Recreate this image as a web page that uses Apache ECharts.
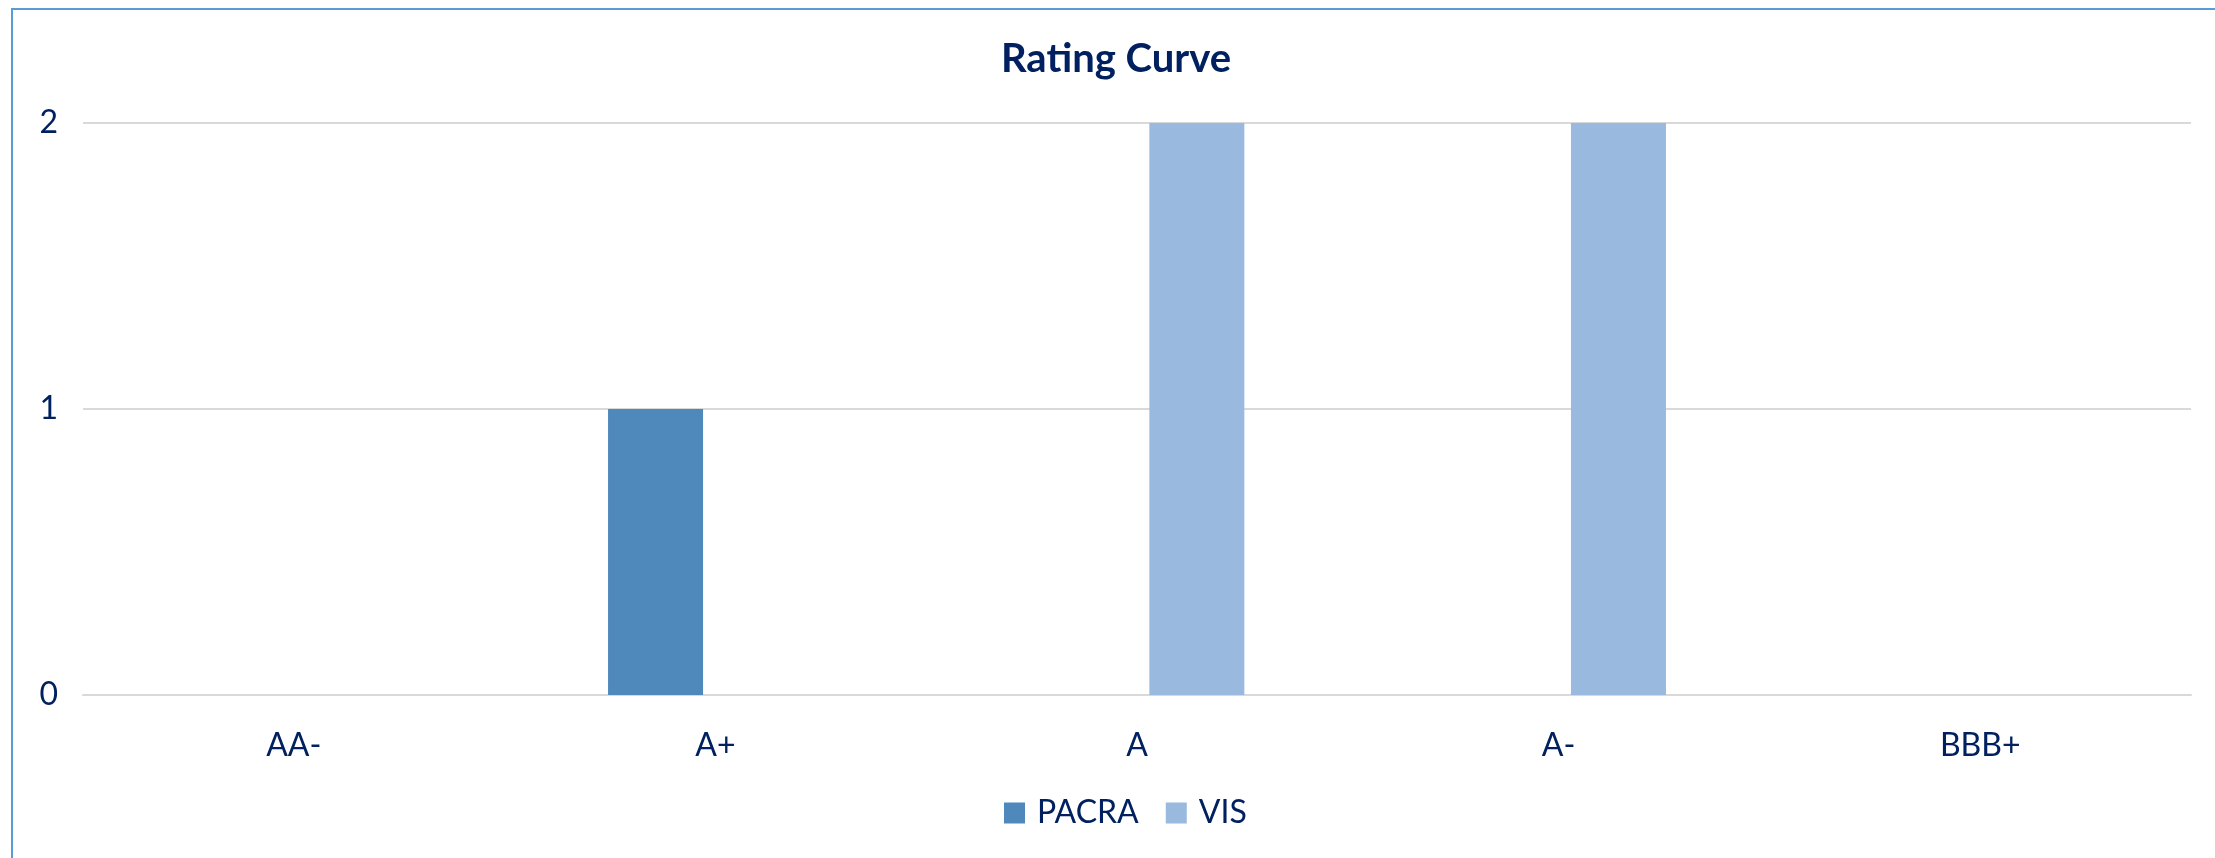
<!DOCTYPE html>
<html>
<head>
<meta charset="utf-8">
<script src="https://cdn.jsdelivr.net/npm/echarts@6/dist/echarts.min.js"></script>
<style>
  html, body { margin: 0; padding: 0; overflow: hidden; background: #fff; }
  #chart { position: absolute; left: 0; top: 0; width: 2215px; height: 858px; }
  #frame {
    position: absolute; left: 11px; top: 8px; width: 2400px; height: 1000px;
    border-left: 2px solid #5b9bd5; border-top: 2px solid #5b9bd5;
    pointer-events: none;
  }
</style>
</head>
<body>
<div id="chart"></div>
<div id="frame"></div>
<script>
  // Rating buckets on the x axis
  const categories = ['AA-', 'A+', 'A', 'A-', 'BBB+'];
  // counts per agency
  const pacraValues = [0, 1, 0, 0, 0];
  const visValues = [0, 0, 2, 2, 0];
  const yTicks = [0, 1, 2];

  const textColor = '#002060';
  const fontFamily = 'Lato, "Noto Sans", sans-serif';

  const myChart = echarts.init(document.getElementById('chart'));

  const option = {
    animation: false,
    title: {
      text: 'Rating Curve',
      left: 1116,
      top: 39,
      textAlign: 'center',
      padding: 0,
      textStyle: {
        color: textColor,
        fontFamily: fontFamily,
        fontWeight: 'bold',
        fontSize: 40
      }
    },
    legend: {
      left: 1004,
      top: 797,
      icon: 'rect',
      itemWidth: 21,
      itemHeight: 21,
      itemGap: 27,
      padding: 0,
      textStyle: {
        color: textColor,
        fontFamily: fontFamily,
        fontSize: 32,
        lineHeight: 32,
        padding: [0, 0, 0, 7]
      },
      data: ['PACRA', 'VIS']
    },
    grid: {
      left: 83,
      right: 24,
      top: 123,
      bottom: 163,
      containLabel: false
    },
    xAxis: {
      type: 'category',
      data: categories,
      axisLine: { lineStyle: { color: '#d9d9d9', width: 2 } },
      axisTick: { show: false },
      axisLabel: {
        color: textColor,
        fontFamily: fontFamily,
        fontSize: 32,
        margin: 35
      }
    },
    yAxis: {
      type: 'value',
      min: yTicks[0],
      max: yTicks[yTicks.length - 1],
      interval: 1,
      axisLine: { show: false },
      axisTick: { show: false },
      splitLine: { lineStyle: { color: '#d9d9d9', width: 2 } },
      axisLabel: {
        color: textColor,
        fontFamily: fontFamily,
        fontSize: 32,
        margin: 25
      }
    },
    series: [
      {
        name: 'PACRA',
        type: 'bar',
        data: pacraValues,
        barWidth: 95,
        barGap: '26%',
        itemStyle: { color: '#4f89bc' }
      },
      {
        name: 'VIS',
        type: 'bar',
        data: visValues,
        barWidth: 95,
        barGap: '26%',
        itemStyle: { color: '#99b9df' }
      }
    ]
  };

  myChart.setOption(option);
</script>
</body>
</html>
